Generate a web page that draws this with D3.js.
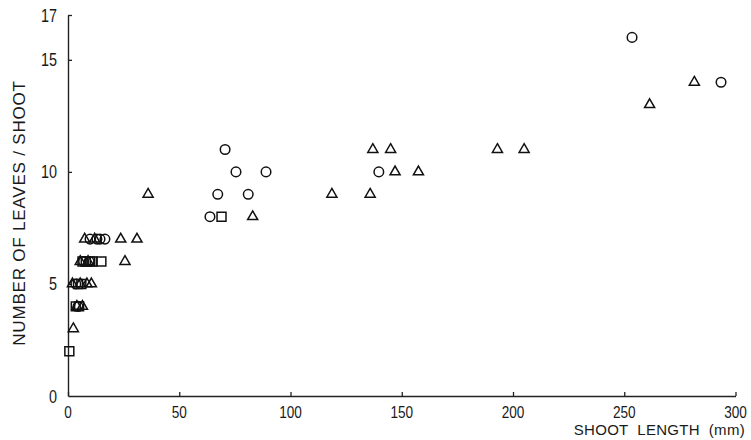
<!DOCTYPE html>
<html>
<head>
<meta charset="utf-8">
<script src="https://cdn.jsdelivr.net/npm/d3@7"></script>
<style>
  body { margin: 0; background: #fff; }
  text { font-family: "Liberation Sans", Arial, sans-serif; fill: #1a1a1a; }
</style>
</head>
<body>
<div id="chart"></div>
<script>
const width = 751, height = 440;

// shoot length (mm), number of leaves per shoot
var circles = [
  [9.9, 7], [14.4, 7], [16.6, 7], [13, 7],
  [7, 6], [9.5, 6],
  [3.5, 5], [4.5, 4],
  [63.8, 8], [67.3, 9], [70.6, 11], [75.5, 10], [81, 9], [89, 10],
  [139.7, 10], [253.5, 16], [293.5, 14]
];
var triangles = [
  [2.4, 3], [4, 4], [6.5, 4],
  [2, 5], [5.5, 5], [8.5, 5], [10.5, 5],
  [5.5, 6], [9, 6], [25.6, 6],
  [7.5, 7], [12, 7], [23.7, 7], [31, 7],
  [36, 9], [83, 8],
  [118.6, 9], [135.8, 9], [137, 11], [145, 11], [147, 10], [157.5, 10],
  [193, 11], [205, 11], [261.4, 13], [281.5, 14]
];
var squares = [
  [0.6, 2], [3.5, 4], [5, 4], [4.5, 5], [6, 5],
  [6.5, 6], [8, 6], [10, 6], [11, 6], [15, 6], [69, 8]
];

var xTicks = [0, 50, 100, 150, 200, 250, 300];
var yTicks = [0, 5, 10, 15, 17];

var svg = d3.select("#chart").append("svg")
    .attr("width", width)
    .attr("height", height);

var x = d3.scaleLinear().domain([0, 300]).range([68, 735.5]);
var y = d3.scaleLinear().domain([0, 17]).range([396, 15]);

// axes, ticks pointing inward
svg.append("g")
    .attr("transform", "translate(0," + y(0) + ")")
    .call(d3.axisTop(x).tickValues(xTicks).tickSize(4).tickSizeOuter(0).tickFormat(""))
    .call(g => g.select(".domain").attr("stroke", "#222").attr("stroke-width", 1.4))
    .call(g => g.selectAll(".tick line").attr("stroke", "#222").attr("stroke-width", 1.3));

svg.append("g")
    .attr("transform", "translate(" + x(0) + ",0)")
    .call(d3.axisRight(y).tickValues(yTicks.slice(1)).tickSize(4).tickSizeOuter(0).tickFormat(""))
    .call(g => g.select(".domain").attr("stroke", "#222").attr("stroke-width", 1.4))
    .call(g => g.selectAll(".tick line").attr("stroke", "#222").attr("stroke-width", 1.3));

// condensed tick labels (squeezed horizontally)
svg.append("g").selectAll("text")
    .data(xTicks)
    .join("text")
    .attr("transform", d => "translate(" + x(d) + ",418) scale(0.8,1)")
    .attr("text-anchor", "middle")
    .attr("font-size", 17)
    .text(d => d);

svg.append("g").selectAll("text")
    .data(yTicks)
    .join("text")
    .attr("transform", d => "translate(57," + (y(d) + 6.5) + ") scale(0.8,1)")
    .attr("text-anchor", "end")
    .attr("font-size", 18)
    .text(d => d);

svg.append("text")
    .attr("x", 745)
    .attr("y", 435)
    .attr("text-anchor", "end")
    .attr("font-size", 15)
    .attr("letter-spacing", 0.3)
    .attr("xml:space", "preserve")
    .text("SHOOT  LENGTH  (mm)");

svg.append("text")
    .attr("transform", "translate(25,213) rotate(-90)")
    .attr("text-anchor", "middle")
    .attr("font-size", 17)
    .attr("letter-spacing", 0.8)
    .text("NUMBER OF LEAVES / SHOOT");

// markers
var series = [
  { data: circles, type: d3.symbolCircle, size: 72 },
  { data: triangles, type: d3.symbolTriangle, size: 44 },
  { data: squares, type: d3.symbolSquare, size: 80 }
];

series.forEach(function (s) {
  svg.append("g").selectAll("path")
      .data(s.data)
      .join("path")
      .attr("transform", d => "translate(" + x(d[0]) + "," + y(d[1]) + ")")
      .attr("d", d3.symbol().type(s.type).size(s.size))
      .attr("fill", "none")
      .attr("stroke", "#111")
      .attr("stroke-width", 1.5);
});
</script>
</body>
</html>
